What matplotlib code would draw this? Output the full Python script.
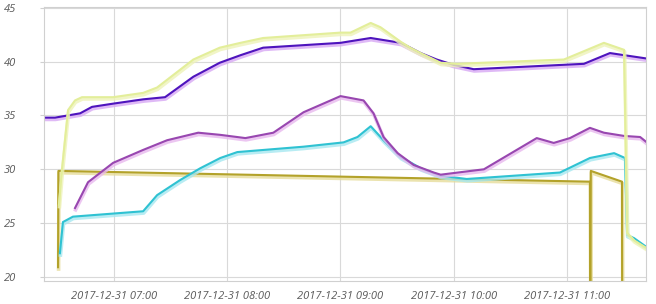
import matplotlib
matplotlib.use("Agg")
import matplotlib.pyplot as plt
import matplotlib.dates as mdates
import matplotlib.patheffects as pe
import pandas as pd

DAY = "2017-12-31 "

indigo_t = ["06:22:48", "06:28:42", "06:42:00", "06:48:18", "06:59:30", "07:15:24",
            "07:27:00", "07:42:00", "07:56:00", "08:07:00", "08:19:00", "09:00:00",
            "09:16:00", "09:32:00", "09:37:00", "09:42:30", "09:51:00", "10:00:00",
            "10:10:36", "11:09:00", "11:22:48", "11:42:00"]
indigo_v = [34.8, 34.8, 35.2, 35.8, 36.1, 36.5, 36.7, 38.6, 39.9, 40.6, 41.3, 41.75,
            42.2, 41.75, 41.3, 40.8, 40.2, 39.7, 39.3, 39.8, 40.8, 40.3]

yellow_t = ["06:30:48", "06:32:24", "06:35:36", "06:39:18", "06:43:00", "06:59:30",
            "07:15:24", "07:22:48", "07:42:00", "07:56:00", "08:07:00", "08:19:00",
            "09:00:00", "09:05:18", "09:16:00", "09:21:12", "09:31:54", "09:37:00",
            "09:42:30", "09:53:06", "10:01:36", "10:58:24", "11:19:36", "11:30:18",
            "11:31:54", "11:35:36", "11:42:00"]
yellow_v = [26.7, 30.0, 35.5, 36.4, 36.7, 36.7, 37.1, 37.6, 40.2, 41.3, 41.75, 42.2,
            42.7, 42.7, 43.6, 43.2, 41.85, 41.3, 40.8, 39.9, 39.8, 40.2, 41.75, 41.1,
            24.1, 23.4, 22.7]

magenta_t = ["06:39:18", "06:46:12", "06:59:30", "07:15:24", "07:28:06", "07:44:36",
             "07:56:18", "08:09:36", "08:24:24", "08:40:24", "09:00:00", "09:12:12",
             "09:17:30", "09:22:48", "09:30:18", "09:38:48", "09:49:24", "09:53:06",
             "10:16:00", "10:44:00", "10:53:00", "11:01:36", "11:12:12", "11:19:36",
             "11:30:18", "11:38:48", "11:42:00"]
magenta_v = [26.4, 28.8, 30.6, 31.8, 32.7, 33.4, 33.2, 32.9, 33.4, 35.3, 36.8, 36.4,
             35.2, 33.0, 31.5, 30.4, 29.7, 29.5, 30.0, 32.9, 32.45, 32.9, 33.85, 33.4,
             33.1, 33.0, 32.55]

cyan_t = ["06:31:18", "06:32:54", "06:38:12", "07:15:24", "07:22:48", "07:35:00",
          "07:45:42", "07:56:18", "08:05:18", "08:40:24", "09:01:36", "09:09:00",
          "09:16:00", "09:22:48", "09:31:54", "09:42:30", "09:53:06", "10:06:54",
          "10:56:18", "11:12:12", "11:25:00", "11:30:48", "11:31:54", "11:35:36",
          "11:42:00"]
cyan_v = [22.2, 25.1, 25.6, 26.1, 27.6, 29.0, 30.1, 31.05, 31.6, 32.1, 32.5, 33.0,
          34.0, 32.7, 31.15, 30.1, 29.4, 29.1, 29.7, 31.05, 31.5, 31.05, 23.9, 23.6,
          22.8]

olive_t = ["06:30:18", "06:30:30", "11:12:12", "11:12:20", "11:12:40", "11:29:12",
           "11:29:20"]
olive_v = [20.9, 29.85, 28.85, 10.0, 29.85, 28.85, 10.0]

series = [
    (olive_t, olive_v, "#b3a22a", "#e6dc9a"),
    (cyan_t, cyan_v, "#2fc2d2", "#a6e8f0"),
    (magenta_t, magenta_v, "#9847b0", "#e8b8ee"),
    (indigo_t, indigo_v, "#4e14bd", "#d7a8f4"),
    (yellow_t, yellow_v, "#e3ee9a", "#eef3b8"),
]

fig = plt.figure(figsize=(6.56, 3.04), dpi=100)
ax = fig.add_axes([0.067, 0.076, 0.918, 0.901])

for t, v, col, glow in series:
    x = pd.to_datetime([DAY + s for s in t])
    ax.plot(x, v, color=col, lw=1.5, solid_joinstyle="round",
            path_effects=[pe.SimpleLineShadow(offset=(0.4, -1.3), shadow_color=glow,
                                              alpha=0.8, linewidth=2.6),
                          pe.Normal()])

ax.set_xlim(pd.Timestamp(DAY + "06:22:50"), pd.Timestamp(DAY + "11:42:00"))
ax.set_ylim(19.63, 45.08)
ax.set_yticks([20, 25, 30, 35, 40, 45])
ax.xaxis.set_major_locator(mdates.HourLocator(byhour=range(7, 12)))
ax.xaxis.set_major_formatter(mdates.DateFormatter("%Y-%m-%d %H:%M"))

ax.grid(True, color="#d9d9d9", lw=0.8)
ax.set_axisbelow(True)
for s in ax.spines.values():
    s.set_color("#d0d0d0")
    s.set_linewidth(0.8)
ax.tick_params(length=0, labelcolor="#5a5a5a")
ax.tick_params(axis="x", pad=7)
ax.tick_params(axis="y", length=3, color="#d0d0d0", width=0.8, pad=17)
for lab in ax.get_xticklabels() + ax.get_yticklabels():
    lab.set_fontfamily("Open Sans")
    lab.set_fontstyle("italic")
    lab.set_fontsize(8)

fig.savefig("out.png", dpi=100)
